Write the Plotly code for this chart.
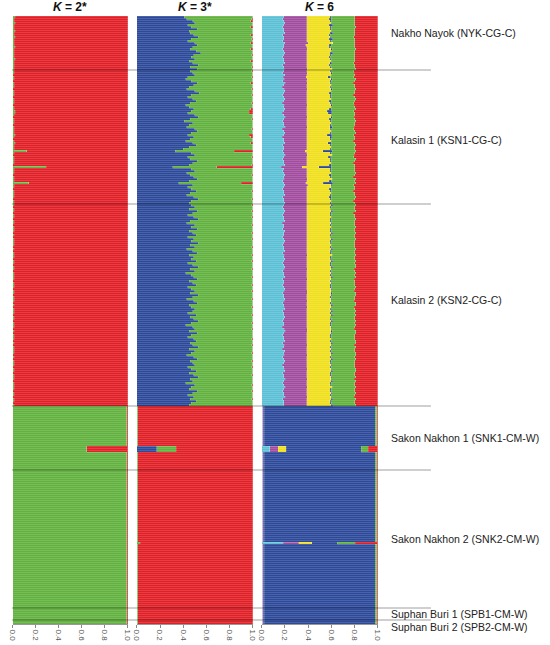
import numpy as np
import plotly.graph_objects as go

# ---- labels
pop_labels = ["Nakho Nayok (NYK-CG-C)", "Kalasin 1 (KSN1-CG-C)", "Kalasin 2 (KSN2-CG-C)",
              "Sakon Nakhon 1 (SNK1-CM-W)", "Sakon Nakhon 2 (SNK2-CM-W)",
              "Suphan Buri 1 (SPB1-CM-W)", "Suphan Buri 2 (SPB2-CM-W)"]
panel_titles = ["<b><i>K</i> = 2*</b>", "<b><i>K</i> = 3*</b>", "<b><i>K</i> = 6</b>"]
tick_vals = [0, 0.2, 0.4, 0.6, 0.8, 1.0]
tick_text = ["0.0", "0.2", "0.4", "0.6", "0.8", "1.0"]

# ---- membership (%), one value per individual, top to bottom
# Nakho Nayok
nyk_k2_green = [2, 1, 1, 2, 1, 1, 1, 2, 1, 1, 2, 1, 1, 1, 1, 2, 1, 1, 1, 1, 1, 2, 1, 1, 1, 1, 1]
nyk_k2_red = [98, 99, 99, 98, 99, 99, 99, 98, 99, 99, 98, 99, 99, 99, 99, 98, 99, 99, 99, 99,
              99, 98, 99, 99, 99, 99, 99]
nyk_k3_blue = [41, 43, 48, 50, 44, 47, 52, 45, 46, 49, 53, 47, 44, 50, 52, 48, 46, 51, 55, 49,
               47, 50, 45, 48, 53, 46, 52]
nyk_k3_green = [59, 56, 50, 50, 56, 51, 48, 55, 54, 49, 47, 52, 56, 48, 48, 52, 52, 49, 45, 50,
                53, 50, 53, 52, 47, 53, 48]
nyk_k3_red = [0, 1, 2, 0, 0, 2, 0, 0, 0, 2, 0, 1, 0, 2, 0, 0, 2, 0, 0, 1, 0, 0, 2, 0, 0, 1, 0]
nyk_k6_cyan = [19, 18, 19, 20, 19, 18, 19, 19, 20, 18, 19, 19, 18, 20, 19, 19, 18, 19, 20, 19,
               18, 19, 19, 20, 18, 19, 19]
nyk_k6_magenta = [20, 21, 20, 19, 20, 21, 20, 20, 19, 21, 20, 20, 21, 20, 19, 20, 21, 20, 19, 20,
                  21, 20, 20, 19, 21, 20, 20]
nyk_k6_yellow = [20, 19, 20, 21, 19, 20, 20, 21, 20, 19, 20, 19, 20, 21, 20, 19, 20, 21, 20, 20,
                 19, 20, 21, 20, 19, 20, 21]
nyk_k6_blue = [1, 2, 1, 0, 3, 1, 1, 0, 2, 1, 1, 3, 1, 0, 2, 1, 1, 0, 2, 1, 1, 1, 0, 2, 1, 1, 0]
nyk_k6_green = [20, 20, 20, 20, 19, 21, 20, 20, 19, 21, 20, 19, 20, 19, 20, 21, 20, 20, 19, 20,
                21, 20, 20, 19, 21, 20, 20]
nyk_k6_red = [20, 20, 20, 20, 20, 19, 20, 20, 20, 20, 21, 20, 20, 20, 20, 20, 19, 20, 20, 20,
              20, 20, 20, 21, 20, 20, 19]

# Kalasin 1
ksn1_k2_green = [1, 1, 0, 1, 1, 0, 1, 1, 1, 0, 1, 1, 1, 0, 1, 1, 1, 0, 1, 1,
                 2, 2, 1, 0, 1, 1, 1, 0, 1, 1, 1, 1, 2, 1, 0, 1, 2, 1, 1, 1,
                 12, 1, 0, 1, 1, 1, 1, 0, 29, 1, 1, 1, 0, 1, 1, 1, 14, 1, 1, 0,
                 1, 1, 1, 1, 0, 1, 1]
ksn1_k2_red = [99, 99, 100, 99, 99, 100, 99, 99, 99, 100, 99, 99, 99, 100, 99, 99, 99, 100, 99, 99,
               98, 98, 99, 100, 99, 99, 99, 100, 99, 99, 99, 99, 98, 99, 100, 99, 98, 99, 99, 99,
               88, 99, 100, 99, 99, 99, 99, 100, 71, 99, 99, 99, 100, 99, 99, 99, 86, 99, 99, 100,
               99, 99, 99, 99, 100, 99, 99]
ksn1_k3_blue = [46, 48, 50, 44, 42, 47, 52, 49, 45, 43, 50, 54, 47, 44, 48, 51, 46, 42, 45, 49,
                47, 44, 50, 53, 46, 41, 48, 45, 43, 50, 52, 47, 44, 49, 46, 42, 48, 51, 45, 40,
                33, 47, 50, 44, 46, 52, 48, 45, 31, 47, 50, 43, 46, 49, 52, 45, 36, 48, 44, 47,
                51, 46, 43, 49, 53, 47, 45]
ksn1_k3_green = [53, 52, 50, 55, 58, 53, 46, 51, 55, 56, 50, 46, 52, 56, 52, 49, 53, 58, 55, 49,
                 50, 53, 50, 47, 53, 59, 52, 55, 57, 49, 48, 53, 53, 49, 54, 58, 50, 49, 55, 60,
                 51, 53, 50, 55, 54, 48, 52, 54, 38, 53, 50, 57, 53, 51, 48, 55, 54, 52, 56, 53,
                 48, 54, 57, 51, 46, 53, 55]
ksn1_k3_red = [1, 0, 0, 1, 0, 0, 2, 0, 0, 1, 0, 0, 1, 0, 0, 0, 1, 0, 0, 2,
               3, 3, 0, 0, 1, 0, 0, 0, 0, 1, 0, 0, 3, 2, 0, 0, 2, 0, 0, 0,
               16, 0, 0, 1, 0, 0, 0, 1, 31, 0, 0, 0, 1, 0, 0, 0, 10, 0, 0, 0,
               1, 0, 0, 0, 1, 0, 0]
ksn1_k6_cyan = [19, 18, 20, 19, 19, 18, 20, 19, 18, 19, 20, 19, 18, 19, 20, 19, 18, 19, 19, 20,
                19, 18, 19, 20, 19, 18, 19, 19, 20, 18, 19, 20, 19, 18, 19, 19, 20, 18, 19, 19,
                18, 19, 20, 19, 18, 19, 19, 20, 17, 19, 18, 19, 20, 19, 19, 18, 19, 20, 19, 18,
                19, 19, 20, 18, 19, 19, 20]
ksn1_k6_magenta = [20, 21, 19, 20, 20, 21, 19, 20, 21, 20, 19, 20, 21, 20, 19, 20, 21, 20, 20, 19,
                   20, 21, 20, 19, 20, 21, 20, 20, 19, 21, 20, 19, 20, 21, 20, 20, 19, 21, 20, 20,
                   19, 20, 19, 20, 21, 20, 20, 19, 18, 20, 21, 20, 19, 20, 20, 21, 19, 20, 20, 21,
                   20, 20, 19, 21, 20, 20, 19]
ksn1_k6_yellow = [20, 20, 21, 19, 20, 20, 19, 21, 20, 20, 21, 19, 20, 20, 21, 19, 20, 20, 21, 19,
                  18, 19, 21, 20, 19, 20, 21, 20, 19, 20, 21, 20, 18, 20, 20, 21, 18, 20, 21, 20,
                  15, 20, 21, 19, 20, 20, 21, 19, 14, 20, 20, 21, 19, 20, 21, 19, 15, 20, 21, 19,
                  20, 21, 20, 19, 20, 21, 20]
ksn1_k6_blue = [1, 1, 0, 2, 1, 1, 1, 0, 1, 1, 0, 2, 1, 1, 0, 2, 1, 1, 0, 2,
                4, 3, 0, 1, 2, 1, 0, 1, 2, 1, 0, 1, 4, 2, 1, 0, 3, 1, 0, 1,
                8, 1, 0, 2, 1, 1, 0, 2, 11, 1, 1, 0, 2, 1, 0, 2, 8, 1, 0, 2,
                1, 0, 1, 2, 1, 0, 1]
ksn1_k6_green = [20, 19, 20, 21, 20, 20, 19, 20, 21, 20, 20, 20, 19, 20, 21, 20, 20, 19, 20, 21,
                 19, 20, 20, 19, 20, 21, 20, 20, 19, 20, 20, 21, 19, 20, 20, 19, 20, 21, 20, 20,
                 20, 20, 19, 20, 21, 20, 19, 20, 20, 20, 20, 21, 20, 19, 20, 20, 20, 19, 21, 20,
                 19, 20, 20, 21, 20, 19, 20]
ksn1_k6_red = [21, 20, 20, 21, 19, 20, 21, 20, 20, 19, 20, 20, 21, 20, 19, 20, 21, 20, 20, 19,
               21, 20, 20, 20, 20, 19, 20, 20, 20, 21, 20, 19, 21, 20, 20, 21, 20, 19, 20, 20,
               19, 20, 20, 21, 19, 20, 21, 20, 20, 20, 20, 19, 20, 21, 19, 20, 19, 21, 20, 20,
               21, 20, 20, 19, 20, 21, 20]

# Kalasin 2
ksn2_k2_green = [1, 0, 1, 1, 0, 1, 1, 0, 1, 1, 0, 1, 1, 1, 0, 1, 0, 1, 1, 1,
                 1, 0, 1, 0, 1, 1, 1, 0, 1, 1, 0, 1, 1, 0, 1, 1, 1, 1, 0, 1,
                 1, 1, 0, 1, 1, 0, 1, 1, 1, 0, 1, 0, 1, 1, 1, 0, 1, 1, 0, 1,
                 1, 1, 0, 1, 0, 1, 1, 1, 0, 1, 0, 1, 1, 1, 1, 0, 1, 0, 1, 1,
                 1, 0, 1, 1, 0, 1, 1, 1, 0, 1, 1, 1, 1, 0, 1, 1, 0, 1, 1, 0,
                 1]
ksn2_k2_red = [99, 100, 99, 99, 100, 99, 99, 100, 99, 99, 100, 99, 99, 99, 100, 99, 100, 99, 99, 99,
               99, 100, 99, 100, 99, 99, 99, 100, 99, 99, 100, 99, 99, 100, 99, 99, 99, 99, 100, 99,
               99, 99, 100, 99, 99, 100, 99, 99, 99, 100, 99, 100, 99, 99, 99, 100, 99, 99, 100, 99,
               99, 99, 100, 99, 100, 99, 99, 99, 100, 99, 100, 99, 99, 99, 99, 100, 99, 100, 99, 99,
               99, 100, 99, 99, 100, 99, 99, 99, 100, 99, 99, 99, 99, 100, 99, 99, 100, 99, 99, 100,
               99]
ksn2_k3_blue = [47, 50, 45, 52, 48, 44, 49, 53, 46, 43, 50, 47, 52, 45, 48, 51, 44, 49, 47, 53,
                46, 50, 43, 48, 52, 45, 49, 47, 51, 44, 48, 53, 46, 50, 42, 47, 49, 52, 45, 48,
                51, 44, 47, 50, 46, 53, 48, 43, 49, 52, 45, 47, 50, 48, 44, 51, 46, 49, 53, 47,
                42, 48, 50, 45, 52, 47, 44, 49, 51, 46, 48, 53, 45, 50, 47, 43, 49, 52, 46, 48,
                50, 44, 47, 51, 45, 49, 53, 46, 48, 42, 50, 47, 45, 52, 48, 44, 49, 46, 51, 47,
                45]
ksn2_k3_green = [52, 50, 55, 47, 52, 56, 50, 47, 54, 57, 49, 53, 48, 55, 51, 49, 56, 50, 53, 47,
                 54, 49, 57, 52, 48, 54, 51, 53, 48, 56, 52, 47, 53, 50, 58, 53, 50, 48, 55, 52,
                 48, 56, 53, 49, 54, 47, 52, 56, 51, 48, 55, 52, 50, 52, 56, 48, 54, 51, 47, 52,
                 58, 52, 49, 55, 48, 53, 56, 50, 49, 54, 51, 47, 55, 50, 52, 57, 51, 48, 53, 52,
                 50, 55, 53, 49, 55, 50, 47, 54, 52, 58, 49, 53, 55, 47, 52, 56, 51, 53, 49, 53,
                 55]
ksn2_k3_red = [1, 0, 0, 1, 0, 0, 1, 0, 0, 0, 1, 0, 0, 0, 1, 0, 0, 1, 0, 0,
               0, 1, 0, 0, 0, 1, 0, 0, 1, 0, 0, 0, 1, 0, 0, 0, 1, 0, 0, 0,
               1, 0, 0, 1, 0, 0, 0, 1, 0, 0, 0, 1, 0, 0, 0, 1, 0, 0, 0, 1,
               0, 0, 1, 0, 0, 0, 0, 1, 0, 0, 1, 0, 0, 0, 1, 0, 0, 0, 1, 0,
               0, 1, 0, 0, 0, 1, 0, 0, 0, 0, 1, 0, 0, 1, 0, 0, 0, 1, 0, 0,
               0]
ksn2_k6_cyan = [19, 18, 19, 20, 19, 18, 19, 19, 20, 18, 19, 19, 18, 20, 19, 19, 18, 19, 20, 19,
                18, 19, 19, 20, 18, 19, 19, 20, 19, 18, 19, 20, 19, 18, 19, 19, 20, 18, 19, 19,
                18, 19, 20, 19, 18, 19, 19, 20, 19, 18, 19, 19, 20, 18, 19, 19, 20, 19, 18, 19,
                19, 18, 19, 20, 19, 18, 19, 19, 20, 18, 19, 19, 18, 20, 19, 19, 18, 19, 20, 19,
                18, 19, 19, 20, 18, 19, 19, 20, 19, 18, 19, 20, 19, 18, 19, 19, 20, 18, 19, 19,
                19]
ksn2_k6_magenta = [20, 21, 20, 19, 20, 21, 20, 20, 19, 21, 20, 20, 21, 19, 20, 20, 21, 20, 19, 20,
                   21, 20, 20, 19, 21, 20, 20, 19, 20, 21, 20, 19, 20, 21, 20, 20, 19, 21, 20, 20,
                   21, 20, 19, 20, 21, 20, 20, 19, 20, 21, 20, 20, 19, 21, 20, 20, 19, 20, 21, 20,
                   20, 21, 20, 19, 20, 21, 20, 20, 19, 21, 20, 20, 21, 19, 20, 20, 21, 20, 19, 20,
                   21, 20, 20, 19, 21, 20, 20, 19, 20, 21, 20, 19, 20, 21, 20, 20, 19, 21, 20, 20,
                   20]
ksn2_k6_yellow = [21, 20, 20, 21, 20, 20, 21, 20, 20, 21, 20, 21, 20, 20, 21, 20, 20, 21, 20, 20,
                  21, 20, 21, 20, 20, 21, 20, 20, 21, 20, 20, 21, 20, 20, 21, 20, 21, 20, 20, 21,
                  20, 20, 21, 20, 20, 21, 20, 21, 20, 20, 21, 20, 20, 21, 20, 21, 20, 20, 21, 20,
                  20, 21, 20, 20, 21, 20, 20, 21, 20, 21, 20, 20, 21, 20, 21, 20, 20, 21, 20, 20,
                  21, 20, 20, 21, 20, 20, 21, 20, 21, 20, 20, 21, 20, 20, 21, 20, 20, 21, 20, 20,
                  21]
ksn2_k6_blue = [1, 1, 0, 1, 1, 1, 0, 1, 1, 1, 1, 0, 1, 1, 1, 1, 0, 1, 1, 1,
                0, 1, 1, 1, 1, 0, 1, 1, 1, 1, 1, 1, 0, 1, 1, 1, 1, 0, 1, 1,
                1, 1, 1, 0, 1, 1, 1, 1, 0, 1, 1, 0, 1, 1, 1, 1, 0, 1, 1, 1,
                1, 1, 0, 1, 1, 1, 1, 0, 1, 1, 0, 1, 1, 1, 1, 0, 1, 1, 1, 1,
                1, 1, 0, 1, 1, 1, 1, 0, 1, 1, 1, 0, 1, 1, 1, 1, 0, 1, 1, 1,
                1]
ksn2_k6_green = [20, 20, 21, 20, 19, 20, 20, 21, 20, 20, 20, 21, 20, 20, 20, 20, 21, 20, 20, 21,
                 20, 20, 20, 21, 20, 20, 20, 21, 20, 20, 21, 20, 20, 20, 21, 20, 20, 20, 21, 20,
                 20, 21, 20, 20, 20, 21, 20, 20, 20, 21, 20, 20, 21, 20, 20, 20, 21, 20, 20, 20,
                 21, 20, 20, 20, 21, 20, 20, 20, 21, 20, 20, 21, 20, 20, 20, 21, 20, 20, 20, 21,
                 20, 20, 21, 20, 20, 20, 21, 20, 20, 20, 21, 20, 20, 20, 21, 20, 20, 20, 21, 20,
                 20]
ksn2_k6_red = [19, 20, 20, 19, 21, 20, 20, 19, 20, 20, 20, 19, 20, 20, 19, 20, 20, 19, 20, 20,
               20, 20, 19, 20, 20, 19, 20, 20, 19, 20, 19, 19, 20, 20, 19, 20, 19, 20, 20, 20,
               20, 19, 20, 20, 19, 19, 20, 20, 20, 19, 19, 20, 20, 19, 20, 19, 20, 20, 19, 20,
               19, 20, 20, 19, 19, 20, 20, 20, 19, 19, 20, 19, 20, 20, 19, 19, 20, 19, 20, 20,
               20, 20, 19, 19, 20, 20, 19, 20, 19, 20, 20, 19, 20, 20, 19, 20, 20, 19, 20, 20,
               19]

# Sakon Nakhon 1
snk1_k2_green = [99, 99, 99, 99, 99, 99, 99, 99, 99, 99, 99, 99, 99, 99, 99, 99, 99, 99, 99, 99,
                 64, 64, 64, 99, 99, 99, 99, 99, 99, 99, 99, 99]
snk1_k2_red = [1, 1, 1, 1, 1, 1, 1, 1, 1, 1, 1, 1, 1, 1, 1, 1, 1, 1, 1, 1,
               36, 36, 36, 1, 1, 1, 1, 1, 1, 1, 1, 1]
snk1_k3_blue = [0, 0, 0, 0, 0, 0, 0, 0, 0, 0, 0, 0, 0, 0, 0, 0, 0, 0, 0, 0,
                17, 17, 17, 0, 0, 0, 0, 0, 0, 0, 0, 0]
snk1_k3_green = [1, 1, 1, 1, 1, 1, 1, 1, 1, 1, 1, 1, 1, 1, 1, 1, 1, 1, 1, 1,
                 17, 17, 17, 1, 1, 1, 1, 1, 1, 1, 1, 1]
snk1_k3_red = [99, 99, 99, 99, 99, 99, 99, 99, 99, 99, 99, 99, 99, 99, 99, 99, 99, 99, 99, 99,
               66, 66, 66, 99, 99, 99, 99, 99, 99, 99, 99, 99]
snk1_k6_cyan = [1, 1, 1, 1, 1, 1, 1, 1, 1, 1, 1, 1, 1, 1, 1, 1, 1, 1, 1, 1,
                7, 7, 7, 1, 1, 1, 1, 1, 1, 1, 1, 1]
snk1_k6_magenta = [1, 1, 1, 1, 1, 1, 1, 1, 1, 1, 1, 1, 1, 1, 1, 1, 1, 1, 1, 1,
                   7, 7, 7, 1, 1, 1, 1, 1, 1, 1, 1, 1]
snk1_k6_yellow = [0, 0, 0, 0, 0, 0, 0, 0, 0, 0, 0, 0, 0, 0, 0, 0, 0, 0, 0, 0,
                  7, 7, 7, 0, 0, 0, 0, 0, 0, 0, 0, 0]
snk1_k6_blue = [96, 96, 96, 96, 96, 96, 96, 96, 96, 96, 96, 96, 96, 96, 96, 96, 96, 96, 96, 96,
                64, 64, 64, 96, 96, 96, 96, 96, 96, 96, 96, 96]
snk1_k6_green = [1, 1, 1, 1, 1, 1, 1, 1, 1, 1, 1, 1, 1, 1, 1, 1, 1, 1, 1, 1,
                 6, 6, 6, 1, 1, 1, 1, 1, 1, 1, 1, 1]
snk1_k6_red = [1, 1, 1, 1, 1, 1, 1, 1, 1, 1, 1, 1, 1, 1, 1, 1, 1, 1, 1, 1,
               8, 8, 8, 1, 1, 1, 1, 1, 1, 1, 1, 1]

# Sakon Nakhon 2
snk2_k2_green = [99, 99, 99, 99, 99, 99, 99, 99, 99, 99, 99, 99, 99, 99, 99, 99, 99, 99, 99, 99,
                 99, 99, 99, 99, 99, 99, 99, 99, 99, 99, 99, 99, 99, 99, 99, 99, 99, 99, 99, 99,
                 99, 99, 99, 99, 99, 99, 99, 99, 99, 99, 99, 99, 99, 99, 99, 99, 99, 99, 99, 99,
                 99, 99, 99, 99, 99, 99, 99, 99, 99]
snk2_k2_red = [1, 1, 1, 1, 1, 1, 1, 1, 1, 1, 1, 1, 1, 1, 1, 1, 1, 1, 1, 1,
               1, 1, 1, 1, 1, 1, 1, 1, 1, 1, 1, 1, 1, 1, 1, 1, 1, 1, 1, 1,
               1, 1, 1, 1, 1, 1, 1, 1, 1, 1, 1, 1, 1, 1, 1, 1, 1, 1, 1, 1,
               1, 1, 1, 1, 1, 1, 1, 1, 1]
snk2_k3_blue = [0, 0, 0, 0, 0, 0, 0, 0, 0, 0, 0, 0, 0, 0, 0, 0, 0, 0, 0, 0,
                0, 0, 0, 0, 0, 0, 0, 0, 0, 0, 0, 0, 0, 0, 0, 0, 0, 0, 0, 0,
                0, 0, 0, 0, 0, 0, 0, 0, 0, 0, 0, 0, 0, 0, 0, 0, 0, 0, 0, 0,
                0, 0, 0, 0, 0, 0, 0, 0, 0]
snk2_k3_green = [1, 1, 1, 1, 1, 1, 1, 1, 1, 1, 1, 1, 1, 1, 1, 1, 1, 1, 1, 1,
                 1, 1, 1, 1, 1, 1, 1, 1, 1, 1, 1, 1, 1, 1, 1, 1, 3, 1, 1, 1,
                 1, 1, 1, 1, 1, 1, 1, 1, 1, 1, 1, 1, 1, 1, 1, 1, 1, 1, 1, 1,
                 1, 1, 1, 1, 1, 1, 1, 1, 1]
snk2_k3_red = [99, 99, 99, 99, 99, 99, 99, 99, 99, 99, 99, 99, 99, 99, 99, 99, 99, 99, 99, 99,
               99, 99, 99, 99, 99, 99, 99, 99, 99, 99, 99, 99, 99, 99, 99, 99, 97, 99, 99, 99,
               99, 99, 99, 99, 99, 99, 99, 99, 99, 99, 99, 99, 99, 99, 99, 99, 99, 99, 99, 99,
               99, 99, 99, 99, 99, 99, 99, 99, 99]
snk2_k6_cyan = [1, 1, 1, 1, 1, 1, 1, 1, 1, 1, 1, 1, 1, 1, 1, 1, 1, 1, 1, 1,
                1, 1, 1, 1, 1, 1, 1, 1, 1, 1, 1, 1, 1, 1, 1, 1, 18, 1, 1, 1,
                1, 1, 1, 1, 1, 1, 1, 1, 1, 1, 1, 1, 1, 1, 1, 1, 1, 1, 1, 1,
                1, 1, 1, 1, 1, 1, 1, 1, 1]
snk2_k6_magenta = [1, 1, 1, 1, 1, 1, 1, 1, 1, 1, 1, 1, 1, 1, 1, 1, 1, 1, 1, 1,
                   1, 1, 1, 1, 1, 1, 1, 1, 1, 1, 1, 1, 1, 1, 1, 1, 13, 1, 1, 1,
                   1, 1, 1, 1, 1, 1, 1, 1, 1, 1, 1, 1, 1, 1, 1, 1, 1, 1, 1, 1,
                   1, 1, 1, 1, 1, 1, 1, 1, 1]
snk2_k6_yellow = [0, 0, 0, 0, 0, 0, 0, 0, 0, 0, 0, 0, 0, 0, 0, 0, 0, 0, 0, 0,
                  0, 0, 0, 0, 0, 0, 0, 0, 0, 0, 0, 0, 0, 0, 0, 0, 11, 0, 0, 0,
                  0, 0, 0, 0, 0, 0, 0, 0, 0, 0, 0, 0, 0, 0, 0, 0, 0, 0, 0, 0,
                  0, 0, 0, 0, 0, 0, 0, 0, 0]
snk2_k6_blue = [96, 96, 96, 96, 96, 96, 96, 96, 96, 96, 96, 96, 96, 96, 96, 96, 96, 96, 96, 96,
                96, 96, 96, 96, 96, 96, 96, 96, 96, 96, 96, 96, 96, 96, 96, 96, 21, 96, 96, 96,
                96, 96, 96, 96, 96, 96, 96, 96, 96, 96, 96, 96, 96, 96, 96, 96, 96, 96, 96, 96,
                96, 96, 96, 96, 96, 96, 96, 96, 96]
snk2_k6_green = [1, 1, 1, 1, 1, 1, 1, 1, 1, 1, 1, 1, 1, 1, 1, 1, 1, 1, 1, 1,
                 1, 1, 1, 1, 1, 1, 1, 1, 1, 1, 1, 1, 1, 1, 1, 1, 15, 1, 1, 1,
                 1, 1, 1, 1, 1, 1, 1, 1, 1, 1, 1, 1, 1, 1, 1, 1, 1, 1, 1, 1,
                 1, 1, 1, 1, 1, 1, 1, 1, 1]
snk2_k6_red = [1, 1, 1, 1, 1, 1, 1, 1, 1, 1, 1, 1, 1, 1, 1, 1, 1, 1, 1, 1,
               1, 1, 1, 1, 1, 1, 1, 1, 1, 1, 1, 1, 1, 1, 1, 1, 19, 1, 1, 1,
               1, 1, 1, 1, 1, 1, 1, 1, 1, 1, 1, 1, 1, 1, 1, 1, 1, 1, 1, 1,
               1, 1, 1, 1, 1, 1, 1, 1, 1]

# Suphan Buri 1
spb1_k2_green = [99, 99, 99, 99, 99, 99]
spb1_k2_red = [1, 1, 1, 1, 1, 1]
spb1_k3_blue = [0, 0, 0, 0, 0, 0]
spb1_k3_green = [1, 1, 1, 1, 1, 1]
spb1_k3_red = [99, 99, 99, 99, 99, 99]
spb1_k6_cyan = [1, 1, 1, 1, 1, 1]
spb1_k6_magenta = [1, 1, 1, 1, 1, 1]
spb1_k6_yellow = [0, 0, 0, 0, 0, 0]
spb1_k6_blue = [96, 96, 96, 96, 96, 96]
spb1_k6_green = [1, 1, 1, 1, 1, 1]
spb1_k6_red = [1, 1, 1, 1, 1, 1]

# Suphan Buri 2
spb2_k2_green = [99, 99]
spb2_k2_red = [1, 1]
spb2_k3_blue = [0, 0]
spb2_k3_green = [1, 1]
spb2_k3_red = [99, 99]
spb2_k6_cyan = [1, 1]
spb2_k6_magenta = [1, 1]
spb2_k6_yellow = [0, 0]
spb2_k6_blue = [96, 96]
spb2_k6_green = [1, 1]
spb2_k6_red = [1, 1]

# ---- colours
RED = "#E11F26"
GREEN = "#62B23F"
BLUE = "#2D4A9A"
CYAN = "#5BC0D5"
MAGENTA = "#A14C9F"
YELLOW = "#F0E01C"

pops = ["nyk", "ksn1", "ksn2", "snk1", "snk2", "spb1", "spb2"]


def stack(name):
    vals = []
    for p in pops:
        vals += globals()[p + "_" + name]
    return np.array(vals, dtype=float)


group_sizes = [len(globals()[p + "_k2_green"]) for p in pops]
n_ind = sum(group_sizes)
rows = np.arange(n_ind)

panels = [
    (["k2_green", "k2_red"], [GREEN, RED]),
    (["k3_blue", "k3_green", "k3_red"], [BLUE, GREEN, RED]),
    (["k6_cyan", "k6_magenta", "k6_yellow", "k6_blue", "k6_green", "k6_red"],
     [CYAN, MAGENTA, YELLOW, BLUE, GREEN, RED]),
]

W, H = 550, 645
top_px, bot_px = 16, 624
domains = [(8, 125), (134, 252), (261, 379)]

fig = go.Figure()
for i, (names, cols) in enumerate(panels):
    q = np.vstack([stack(n) for n in names])
    q = q / q.sum(axis=0)  # each individual sums to 1
    xa = "x" if i == 0 else "x%d" % (i + 1)
    for j, c in enumerate(cols):
        fig.add_trace(go.Bar(
            x=q[j], y=rows, orientation="h", width=1,
            marker=dict(color=c, line=dict(width=0.5, color="rgba(255,255,255,0.28)")),
            xaxis=xa, yaxis="y", showlegend=False, hoverinfo="skip"
        ))

axis_common = dict(
    range=[0, 1], tickvals=tick_vals, ticktext=tick_text, tickangle=90,
    tickfont=dict(size=8, color="#555555"), ticks="outside", ticklen=3,
    tickcolor="#888888", showline=True, linecolor="#999999", linewidth=1,
    showgrid=False, zeroline=False, anchor="y", fixedrange=True
)
layout_axes = {}
for i, (a, b) in enumerate(domains):
    key = "xaxis" if i == 0 else "xaxis%d" % (i + 1)
    layout_axes[key] = dict(axis_common, domain=[a / W, b / W])

fig.update_layout(
    width=W, height=H,
    margin=dict(l=0, r=0, t=top_px, b=H - bot_px),
    barmode="stack",
    plot_bgcolor="white", paper_bgcolor="white",
    font=dict(family="Liberation Sans, Arial, sans-serif", color="#222222"),
    yaxis=dict(range=[n_ind - 0.5, -0.5], visible=False, fixedrange=True, domain=[0, 1]),
    **layout_axes
)

# panel titles
for (a, b), t in zip(domains, panel_titles):
    fig.add_annotation(
        x=(a + b) / 2 / W, y=1, xref="paper", yref="paper",
        xanchor="center", yanchor="bottom", yshift=0,
        text=t, showarrow=False, font=dict(size=12, color="#111111")
    )

# population boundaries and labels
label_shift = [10, -3, 5, 0, 0, 0, -5]
start = 0
for k, (lab, n) in enumerate(zip(pop_labels, group_sizes)):
    end = start + n
    if end < n_ind:
        fig.add_shape(
            type="line", xref="paper", yref="y",
            x0=7 / W, x1=433 / W, y0=end - 0.5, y1=end - 0.5,
            line=dict(color="rgba(0,0,0,0.38)", width=1), layer="above"
        )
    centre = (start + end) / 2
    fig.add_annotation(
        x=390 / W, y=1 - centre / n_ind, xref="paper", yref="paper",
        xanchor="left", yanchor="middle", yshift=label_shift[k],
        text=lab, showarrow=False, font=dict(size=10.5, color="#222222")
    )
    start = end

# the page's default body margin would push the figure off the window
fig.write_html("out.html", config={"displayModeBar": False},
               post_script="document.body.style.margin='0px';")
